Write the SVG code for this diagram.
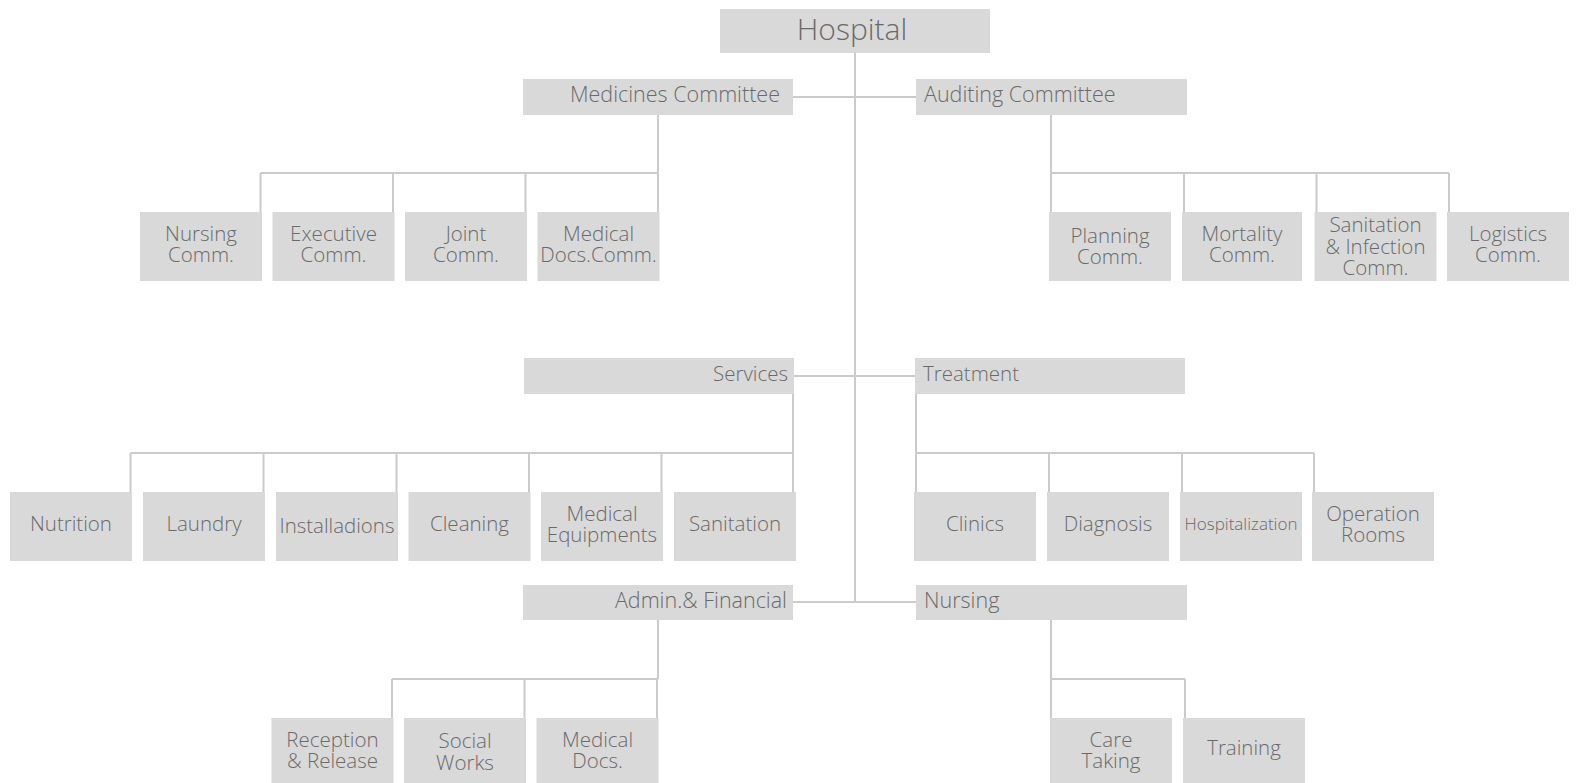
<svg xmlns="http://www.w3.org/2000/svg" width="1576" height="783" viewBox="0 0 1576 783">
<style>
rect.b{fill:#d9d9d9}
text{font-family:"Open Sans","Liberation Sans",sans-serif;font-weight:300;font-size:20.5px;fill:#6a6a6a}
text.l1{font-size:21.5px}
text.c{text-anchor:middle}
text.e{text-anchor:end}
#conn path{fill:none;stroke:#cbcbcb;stroke-width:2}
</style>
<rect width="1576" height="783" fill="#ffffff"/>
<g id="conn">
<path d="M855 53V602"/>
<path d="M793 97H916"/>
<path d="M794 376H915"/>
<path d="M793 602H916"/>
<path d="M658 115V173M260.5 173H658M260.5 173V212M393 173V212M525.5 173V212M658 173V212"/>
<path d="M1051 115V173M1051 173H1449M1051 173V212M1184 173V212M1316.5 173V212M1449 173V212"/>
<path d="M793 394V453M130.5 453H793M130.5 453V492M263.5 453V492M396.5 453V492M529 453V492M661.5 453V492M793 453V492"/>
<path d="M916 394V453M916 453H1314M916 453V492M1049 453V492M1182 453V492M1314 453V492"/>
<path d="M658 620V679M392 679H658M392 679V718M524.5 679V718M657 679V718"/>
<path d="M1051 620V679M1051 679H1185M1051 679V718M1185 679V718"/>
</g>
<g id="hospital"><rect class="b" x="720" y="9" width="270" height="44"/><text class="c" x="852" y="40" style="font-size:30px">Hospital</text></g>
<g id="medicines"><rect class="b" x="523" y="79" width="270" height="36"/><text class="l1 e" x="780" y="102">Medicines Committee</text></g>
<g id="auditing"><rect class="b" x="916" y="79" width="271" height="36"/><text class="l1" x="924" y="102">Auditing Committee</text></g>
<g id="nursing-comm"><rect class="b" x="140" y="212" width="122" height="69"/><text class="c" x="201" y="241">Nursing<tspan x="201" dy="21">Comm.</tspan></text></g>
<g id="executive-comm"><rect class="b" x="272.5" y="212" width="122" height="69"/><text class="c" x="333.5" y="241">Executive<tspan x="333.5" dy="21">Comm.</tspan></text></g>
<g id="joint-comm"><rect class="b" x="405" y="212" width="122" height="69"/><text class="c" x="466" y="241">Joint<tspan x="466" dy="21">Comm.</tspan></text></g>
<g id="medical-docs-comm"><rect class="b" x="537.5" y="212" width="122" height="69"/><text class="c" x="598.5" y="241">Medical<tspan x="598.5" dy="21">Docs.Comm.</tspan></text></g>
<g id="planning-comm"><rect class="b" x="1049" y="212" width="122" height="69"/><text class="c" x="1110" y="243">Planning<tspan x="1110" dy="21">Comm.</tspan></text></g>
<g id="mortality-comm"><rect class="b" x="1182" y="212" width="120" height="69"/><text class="c" x="1242" y="241">Mortality<tspan x="1242" dy="21">Comm.</tspan></text></g>
<g id="sanitation-comm"><rect class="b" x="1314.5" y="212" width="122" height="69"/><text class="c" x="1375.5" y="232">Sanitation<tspan x="1375.5" dy="22">&amp; Infection</tspan><tspan x="1375.5" dy="21">Comm.</tspan></text></g>
<g id="logistics-comm"><rect class="b" x="1447" y="212" width="122" height="69"/><text class="c" x="1508" y="241">Logistics<tspan x="1508" dy="21">Comm.</tspan></text></g>
<g id="services"><rect class="b" x="524" y="358" width="270" height="36"/><text class="e" x="788" y="381">Services</text></g>
<g id="treatment"><rect class="b" x="915" y="358" width="270" height="36"/><text x="923" y="381">Treatment</text></g>
<g id="nutrition"><rect class="b" x="10" y="492" width="122" height="69"/><text class="c" x="71" y="531">Nutrition</text></g>
<g id="laundry"><rect class="b" x="143" y="492" width="122" height="69"/><text class="c" x="204" y="531">Laundry</text></g>
<g id="installadions"><rect class="b" x="276" y="492" width="122" height="69"/><text class="c" x="337" y="533" textLength="115" lengthAdjust="spacingAndGlyphs">Installadions</text></g>
<g id="cleaning"><rect class="b" x="408.5" y="492" width="122" height="69"/><text class="c" x="469.5" y="531">Cleaning</text></g>
<g id="medical-equipments"><rect class="b" x="541" y="492" width="122" height="69"/><text class="c" x="602" y="521">Medical<tspan x="602" dy="21">Equipments</tspan></text></g>
<g id="sanitation"><rect class="b" x="674" y="492" width="122" height="69"/><text class="c" x="735" y="531">Sanitation</text></g>
<g id="clinics"><rect class="b" x="914" y="492" width="122" height="69"/><text class="c" x="975" y="531">Clinics</text></g>
<g id="diagnosis"><rect class="b" x="1047" y="492" width="122" height="69"/><text class="c" x="1108" y="531">Diagnosis</text></g>
<g id="hospitalization"><rect class="b" x="1180" y="492" width="122" height="69"/><text class="c" x="1241" y="530" style="font-size:17px" textLength="113" lengthAdjust="spacingAndGlyphs">Hospitalization</text></g>
<g id="operation-rooms"><rect class="b" x="1312" y="492" width="122" height="69"/><text class="c" x="1373" y="521">Operation<tspan x="1373" dy="21">Rooms</tspan></text></g>
<g id="admin"><rect class="b" x="523" y="585" width="270" height="35"/><text class="l1 e" x="787" y="608">Admin.&amp; Financial</text></g>
<g id="nursing"><rect class="b" x="916" y="585" width="271" height="35"/><text class="l1" x="924" y="608">Nursing</text></g>
<g id="reception"><rect class="b" x="271.5" y="718" width="122" height="65"/><text class="c" x="332.5" y="747">Reception<tspan x="332.5" dy="21">&amp; Release</tspan></text></g>
<g id="social-works"><rect class="b" x="404" y="718" width="122" height="65"/><text class="c" x="465" y="748">Social<tspan x="465" dy="22">Works</tspan></text></g>
<g id="medical-docs"><rect class="b" x="536.5" y="718" width="122" height="65"/><text class="c" x="597.5" y="747">Medical<tspan x="597.5" dy="21">Docs.</tspan></text></g>
<g id="care-taking"><rect class="b" x="1050" y="718" width="122" height="65"/><text class="c" x="1111" y="747">Care<tspan x="1111" dy="21">Taking</tspan></text></g>
<g id="training"><rect class="b" x="1183" y="718" width="122" height="65"/><text class="c" x="1244" y="755">Training</text></g>
</svg>
